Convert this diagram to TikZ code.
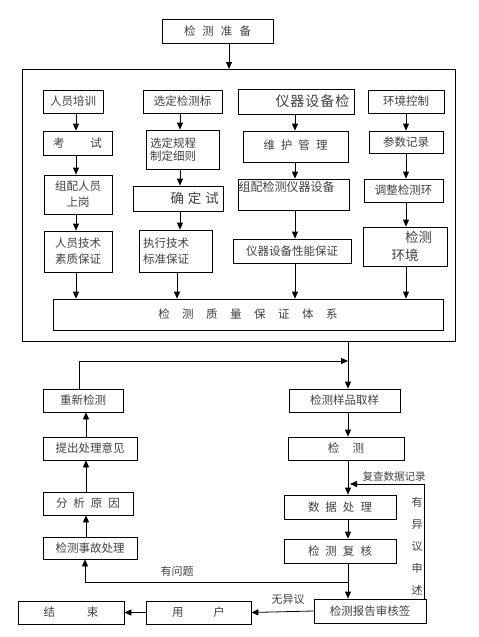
\documentclass[tikz,border=0pt]{standalone}
\usepackage{fontspec}
\newfontfamily\cjk{Noto Sans CJK SC}
\usetikzlibrary{arrows.meta}
\newcommand\gp[1]{\hspace{#1pt}}
\begin{document}
\begin{tikzpicture}[x=1pt,y=-1pt,
  bx/.style={draw,line width=0.8pt,inner sep=2pt,align=center,text=black!75,font=\cjk\fontsize{11.5}{16}\selectfont},
  lbl/.style={inner sep=0pt,align=center,text=black!75,font=\cjk\fontsize{11}{14}\selectfont},
  arr/.style={line width=0.8pt,-{Triangle[length=7pt,width=6pt]}},
  ln/.style={line width=0.8pt}]
\useasboundingbox (0,0) rectangle (479,637);
% top
\node[bx,minimum width=111pt,minimum height=24pt] (prep) at (217.5,31) {检\gp7测\gp7准\gp7备};
\draw[ln] (22,69) -- (456,69);
\draw[ln] (22,69) rectangle (455,341);
\coordinate (ctop) at (229,69);
\coordinate (cbot) at (348,341);
\draw[arr] (prep.south -| ctop) -- (ctop);
% column coordinates
\coordinate (pc) at (76,0);
\coordinate (sc) at (180,0);
\coordinate (sd) at (177,0);
\coordinate (ec) at (295,0);
\coordinate (vc) at (406,0);
% row 1
\node[bx,minimum width=60pt,minimum height=23pt] (p1) at (73,101.5) {人员培训};
\node[bx,minimum width=79pt,minimum height=23pt] (s1) at (182.5,101.5) {选定检测标};
\node[bx,font=\cjk\fontsize{14}{16}\selectfont,minimum width=116pt,minimum height=25pt,text width=107pt,inner xsep=4.5pt,align=right] (e1) at (296,101.5) {仪\gp1器\gp1设\gp1备\gp1检};
\node[bx,minimum width=76pt,minimum height=23pt] (v1) at (406,101.5) {环境控制};
% row 2
\node[bx,minimum width=69pt,minimum height=24pt] (p2) at (77.5,143) {考\gp{26}试};
\node[bx,minimum width=73pt,minimum height=39pt,text width=65pt,inner xsep=4pt,align=left,font=\cjk\fontsize{11.5}{13.5}\selectfont] (s2) at (182.5,149.5) {选定规程\\制定细则};
\node[bx,minimum width=105pt,minimum height=31pt] (e2) at (295.5,146.5) {\raisebox{3pt}{维\gp6护\gp6管\gp6理}};
\node[bx,minimum width=74pt,minimum height=22pt] (v2) at (406,142) {参数记录};
% row 3
\node[bx,minimum width=68pt,minimum height=39pt] (p3) at (78,194.5) {组配人员\\上岗};
\node[bx,font=\cjk\fontsize{13.5}{16}\selectfont,minimum width=90pt,minimum height=25pt,text width=82pt,inner xsep=4pt,align=right] (s3) at (178,198.5) {确\gp4定\gp4试};
\node[bx,minimum width=111pt,minimum height=31pt] (e3) at (293.5,194.5) {};
\node[lbl,anchor=north west,font=\cjk\fontsize{12}{14}\selectfont] (e3t) at (238.5,181) {组配检测仪器设备};
\node[bx,minimum width=79pt,minimum height=23pt] (v3) at (403.5,190.5) {调整检测环};
% row 4
\node[bx,minimum width=68pt,minimum height=41pt] (p4) at (78,251.5) {人员技术\\素质保证};
\node[bx,minimum width=73pt,minimum height=42pt,text width=65pt,inner xsep=4pt,align=left] (s4) at (175.5,251) {执行技术\\标准保证};
\node[bx,minimum width=118pt,minimum height=24pt] (e4) at (292,251) {仪器设备性能保证};
\node[bx,minimum width=84pt,minimum height=39pt,font=\cjk\fontsize{13.5}{18}\selectfont] (v4) at (405,246.5) {\hspace*{27pt}检测\\环境};
% system box
\node[bx,minimum width=390pt,minimum height=31pt] (sys) at (248,314.5) {\raisebox{2pt}{检\gp{12.5}测\gp{12.5}质\gp{12.5}量\gp{12.5}保\gp{12.5}证\gp{12.5}体\gp{12.5}系}};
% arrows in container
\draw[arr] (p1.south -| pc) -- (p2.north -| pc);
\draw[arr] (p2.south -| pc) -- (p3.north -| pc);
\draw[arr] (p3.south -| pc) -- (p4.north -| pc);
\draw[arr] (p4.south -| pc) -- (sys.north -| pc);
\draw[arr] (s1.south -| sc) -- (s2.north -| sc);
\draw[arr] (s2.south -| sc) -- (s3.north -| sc);
\draw[arr] (s3.south -| sc) -- (s4.north -| sc);
\draw[arr] (s4.south -| sd) -- (sys.north -| sd);
\draw[arr] (e1.south -| ec) -- (e2.north -| ec);
\draw[arr] (e2.south -| ec) -- (e3.north -| ec);
\draw[arr] (e3.south -| ec) -- (e4.north -| ec);
\draw[arr] (e4.south -| ec) -- (sys.north -| ec);
\draw[arr] (v1.south -| vc) -- (v2.north -| vc);
\draw[arr] (v2.south -| vc) -- (v3.north -| vc);
\draw[arr] (v3.south -| vc) -- (v4.north -| vc);
\draw[arr] (v4.south -| vc) -- (sys.north -| vc);
% lower part
\coordinate (sp) at (348,0);
\coordinate (lx) at (86,0);
\node[bx,minimum width=80pt,minimum height=23pt] (redo) at (83,400.5) {重新检测};
\node[bx,minimum width=94pt,minimum height=23pt] (opin) at (90,448.5) {提出处理意见};
\node[bx,minimum width=90pt,minimum height=23pt] (anal) at (88,503.5) {分\gp6析\gp6原\gp6因};
\node[bx,minimum width=94pt,minimum height=22pt] (acc) at (90,548) {检测事故处理};
\node[bx,minimum width=111pt,minimum height=23pt] (samp) at (344.5,400.5) {检测样品取样};
\node[bx,minimum width=116pt,minimum height=23pt] (test) at (346,448.5) {检\gp{13.5}测};
\node[bx,minimum width=112pt,minimum height=24pt] (data) at (340,507) {数\gp6据\gp6处\gp6理};
\node[bx,minimum width=112pt,minimum height=24pt] (rev) at (340,551) {检\gp6测\gp6复\gp6核};
\node[bx,minimum width=112pt,minimum height=24pt] (rep) at (370,611) {检测报告审核签};
\node[bx,minimum width=105pt,minimum height=23pt] (user) at (198.5,612.5) {用\gp{30}户};
\node[bx,minimum width=106pt,minimum height=23pt] (fin) at (71,612.5) {结\gp{32}束};
\coordinate (join) at (348,361);
\draw[arr] (cbot) -- (samp.north -| sp);
\draw[arr] (redo.north -| 79,0) |- (join);
\draw[arr] (samp.south -| sp) -- (test.north -| sp);
\draw[arr] (test.south -| sp) -- (data.north -| sp);
\draw[arr] (data.south -| sp) -- (rev.north -| sp);
\draw[arr] (rev.south -| sp) -- (rep.north -| sp);
\draw[arr] (acc.north -| lx) -- (anal.south -| lx);
\draw[arr] (anal.north -| lx) -- (opin.south -| lx);
\draw[arr] (opin.north -| lx) -- (redo.south -| lx);
\coordinate (q) at (348,582);
\draw[arr] (q) -| (acc.south -| 85,0);
\coordinate (rx) at (424,0);
\coordinate (cq) at (350,484);
\draw[arr] (rep.north -| rx) |- (cq);
\draw[arr] (rep.west) -- (user.east);
\draw[arr] (user.west) -- (fin.east);
% labels
\node[lbl,font=\cjk\fontsize{10.5}{12}\selectfont] (lq) at (394,477) {复查数据记录};
\node[lbl,font=\cjk\fontsize{11}{22}\selectfont] (ly) at (417,546) {有\\异\\议\\申\\述};
\node[lbl] (lw) at (177,571) {有问题};
\node[lbl] (ln) at (288,599) {无异议};
\end{tikzpicture}
\end{document}
